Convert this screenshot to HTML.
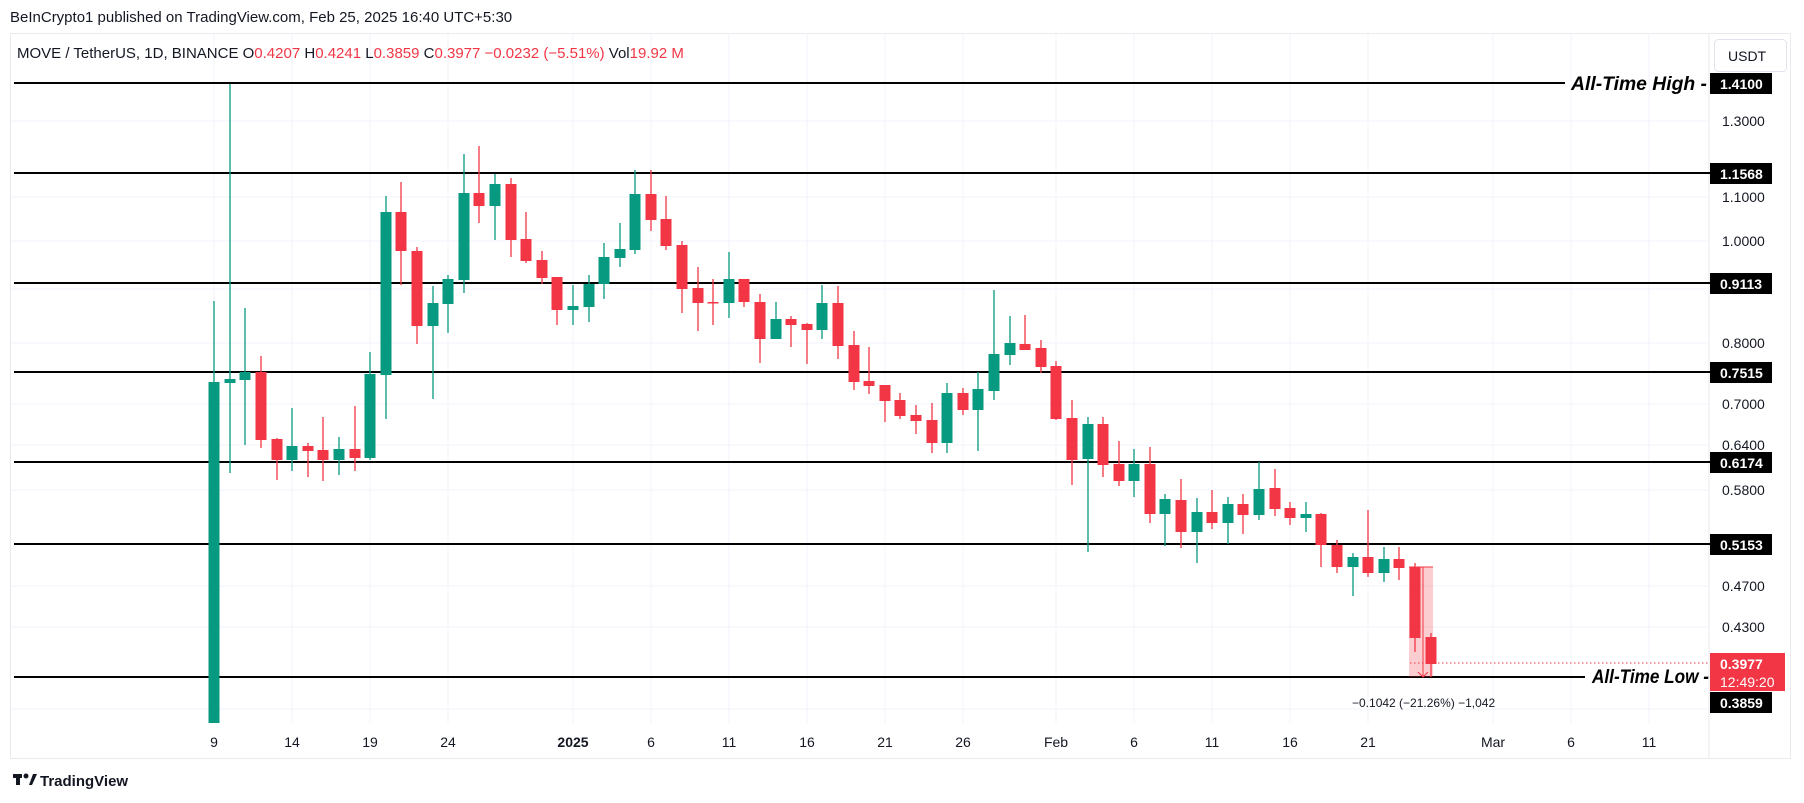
<!DOCTYPE html>
<html><head><meta charset="utf-8"><style>
body{margin:0;background:#fff;width:1804px;height:803px;overflow:hidden;font-family:"Liberation Sans",sans-serif}
svg{position:absolute;left:0;top:0}
.g{fill:#089981}.r{fill:#f23645}
</style></head><body>
<svg width="1804" height="803" viewBox="0 0 1804 803">
<text x="10" y="22" font-size="15" fill="#131722">BeInCrypto1 published on TradingView.com, Feb 25, 2025 16:40 UTC+5:30</text>
<rect x="10.5" y="33.5" width="1780" height="725" fill="#fff" stroke="#e8eaee"/>
<g stroke="#f0f3fa" stroke-width="1">
<path d="M11 121H1708M11 197H1708M11 241H1708M11 289H1708M11 343H1708M11 404H1708M11 445H1708M11 490H1708M11 586H1708M11 627H1708M11 709H1708"/>
<path d="M214 34V723M292 34V723M370 34V723M448 34V723M573 34V723M651 34V723M729 34V723M807 34V723M885 34V723M963 34V723M1056 34V723M1134 34V723M1212 34V723M1290 34V723M1368 34V723M1493 34V723M1571 34V723M1649 34V723"/>
</g>
<line x1="1709" y1="34" x2="1709" y2="758" stroke="#e8eaee"/>
<text x="17" y="58" font-size="15" fill="#131722">MOVE / TetherUS, 1D, BINANCE  O<tspan fill="#f23645">0.4207</tspan>  H<tspan fill="#f23645">0.4241</tspan>  L<tspan fill="#f23645">0.3859</tspan>  C<tspan fill="#f23645">0.3977  −0.0232 (−5.51%)</tspan>  Vol<tspan fill="#f23645">19.92 M</tspan></text>
<g stroke="#000" stroke-width="2">
<path d="M14 83H1565M14 173H1710M14 283H1710M14 372H1710M14 462H1710M14 544H1710M14 677H1585"/>
</g>
<line x1="1410" y1="663" x2="1710" y2="663" stroke="#f23645" stroke-dasharray="1.5 2.5"/>
<rect x="1409" y="567" width="24" height="110" fill="rgba(242,54,69,0.25)"/>
<path d="M1409 567H1433M1423 567V677M1418 672L1423 677L1428 672" stroke="#f23645" fill="none" stroke-width="1"/>
<path fill="none" stroke="#089981" stroke-width="1.3" d="M214 301V723M230 84V473M245 308V445M292 408V471M339 437V475M370 352V460M386 196V419M433 286V399M448 275V333M464 154V293M495 174V240M573 285V325M589 275V322M604 243V299M620 223V267M635 170V254M729 252V318M776 302V339M822 285V339M947 383V453M978 372V451M994 290V400M1010 316V365M1088 417V552M1134 449V497M1165 494V546M1197 498V563M1228 497V544M1259 462V520M1306 502V532M1353 553V596M1384 547V582"/>
<path fill="none" stroke="#f23645" stroke-width="1.3" d="M261 356V448M277 438V480M308 443V477M323 417V481M355 406V471M401 182V285M417 247V344M479 146V223M511 178V257M526 212V263M542 251V284M557 277V325M651 170V231M666 196V250M682 241V313M698 267V331M713 279V325M744 279V307M760 294V363M791 316V347M807 323V364M838 286V359M854 331V390M869 347V394M885 385V422M900 393V419M916 405V434M932 403V453M963 388V415M1025 315V350M1041 340V373M1056 361V420M1072 400V485M1103 417V477M1119 441V486M1150 447V523M1181 479V548M1212 490V529M1243 494V534M1275 469V516M1290 502V525M1321 513V567M1337 540V573M1368 510V577M1399 547V580M1415 563V652M1431 633V677"/>
<g class="g">
<rect x="208.5" y="382" width="11" height="341"/><rect x="224.5" y="379" width="11" height="4"/><rect x="239.5" y="372" width="11" height="8"/><rect x="286.5" y="446" width="11" height="14"/><rect x="333.5" y="449" width="11" height="11"/><rect x="364.5" y="374" width="11" height="84"/><rect x="380.5" y="212" width="11" height="163"/><rect x="427.5" y="303" width="11" height="23"/><rect x="442.5" y="279" width="11" height="25"/><rect x="458.5" y="193" width="11" height="87"/><rect x="489.5" y="184" width="11" height="22"/><rect x="567.5" y="306" width="11" height="4"/><rect x="583.5" y="284" width="11" height="23"/><rect x="598.5" y="257" width="11" height="27"/><rect x="614.5" y="249" width="11" height="9"/><rect x="629.5" y="194" width="11" height="56"/><rect x="723.5" y="279" width="11" height="24"/><rect x="770.5" y="319" width="11" height="20"/><rect x="816.5" y="303" width="11" height="27"/><rect x="941.5" y="393" width="11" height="50"/><rect x="972.5" y="389" width="11" height="21"/><rect x="988.5" y="354" width="11" height="37"/><rect x="1004.5" y="343" width="11" height="12"/><rect x="1082.5" y="424" width="11" height="35"/><rect x="1128.5" y="464" width="11" height="17"/><rect x="1159.5" y="499" width="11" height="15"/><rect x="1191.5" y="512" width="11" height="20"/><rect x="1222.5" y="504" width="11" height="19"/><rect x="1253.5" y="489" width="11" height="26"/><rect x="1300.5" y="514" width="11" height="4"/><rect x="1347.5" y="557" width="11" height="10"/><rect x="1378.5" y="559" width="11" height="14"/>
</g>
<g class="r">
<rect x="255.5" y="372" width="11" height="68"/><rect x="271.5" y="439" width="11" height="21"/><rect x="302.5" y="446" width="11" height="5"/><rect x="317.5" y="450" width="11" height="10"/><rect x="349.5" y="449" width="11" height="9"/><rect x="395.5" y="212" width="11" height="39"/><rect x="411.5" y="251" width="11" height="75"/><rect x="473.5" y="193" width="11" height="13"/><rect x="505.5" y="184" width="11" height="56"/><rect x="520.5" y="239" width="11" height="22"/><rect x="536.5" y="260" width="11" height="18"/><rect x="551.5" y="277" width="11" height="33"/><rect x="645.5" y="194" width="11" height="26"/><rect x="660.5" y="219" width="11" height="27"/><rect x="676.5" y="245" width="11" height="44"/><rect x="692.5" y="288" width="11" height="15"/><rect x="707.5" y="302" width="11" height="1.5"/><rect x="738.5" y="279" width="11" height="23"/><rect x="754.5" y="302" width="11" height="37"/><rect x="785.5" y="319" width="11" height="6"/><rect x="801.5" y="324" width="11" height="6"/><rect x="832.5" y="303" width="11" height="43"/><rect x="848.5" y="345" width="11" height="37"/><rect x="863.5" y="381" width="11" height="5"/><rect x="879.5" y="385" width="11" height="16"/><rect x="894.5" y="400" width="11" height="16"/><rect x="910.5" y="415" width="11" height="6"/><rect x="926.5" y="420" width="11" height="23"/><rect x="957.5" y="393" width="11" height="17"/><rect x="1019.5" y="344" width="11" height="6"/><rect x="1035.5" y="348" width="11" height="19"/><rect x="1050.5" y="366" width="11" height="53"/><rect x="1066.5" y="418" width="11" height="42"/><rect x="1097.5" y="424" width="11" height="41"/><rect x="1113.5" y="464" width="11" height="17"/><rect x="1144.5" y="464" width="11" height="50"/><rect x="1175.5" y="500" width="11" height="32"/><rect x="1206.5" y="512" width="11" height="11"/><rect x="1237.5" y="504" width="11" height="11"/><rect x="1269.5" y="488" width="11" height="21"/><rect x="1284.5" y="508" width="11" height="10"/><rect x="1315.5" y="514" width="11" height="31"/><rect x="1331.5" y="545" width="11" height="22"/><rect x="1362.5" y="557" width="11" height="16"/><rect x="1393.5" y="559" width="11" height="9"/><rect x="1409.5" y="567" width="11" height="71"/><rect x="1425.5" y="637" width="11" height="27"/>
</g>
<text x="1352" y="707" font-size="12" fill="#131722">−0.1042 (−21.26%) −1,042</text>
<g font-size="19" font-weight="bold" font-style="italic" fill="#000">
<text x="1571" y="90" textLength="136" lengthAdjust="spacingAndGlyphs">All-Time High -</text>
<text x="1592" y="683" textLength="117" lengthAdjust="spacingAndGlyphs">All-Time Low -</text>
</g>
<g font-size="14" fill="#131722">
<text x="1722" y="126">1.3000</text><text x="1722" y="202">1.1000</text><text x="1722" y="246">1.0000</text><text x="1722" y="348">0.8000</text><text x="1722" y="409">0.7000</text><text x="1722" y="450">0.6400</text><text x="1722" y="495">0.5800</text><text x="1722" y="591">0.4700</text><text x="1722" y="632">0.4300</text>
</g>
<rect x="1714.5" y="39.5" width="72" height="32" rx="4" fill="#fff" stroke="#e0e3eb"/>
<text x="1728" y="61" font-size="14" fill="#131722">USDT</text>
<g fill="#000">
<rect x="1710" y="73" width="62" height="21"/><rect x="1710" y="163" width="62" height="21"/><rect x="1710" y="273" width="62" height="21"/><rect x="1710" y="362" width="62" height="21"/><rect x="1710" y="452" width="62" height="21"/><rect x="1710" y="534" width="62" height="21"/><rect x="1710" y="692" width="62" height="21"/>
</g>
<rect x="1710" y="653" width="75" height="38" fill="#f23645"/>
<g font-size="14" font-weight="bold" fill="#fff">
<text x="1720" y="89">1.4100</text><text x="1720" y="179">1.1568</text><text x="1720" y="289">0.9113</text><text x="1720" y="378">0.7515</text><text x="1720" y="468">0.6174</text><text x="1720" y="550">0.5153</text><text x="1720" y="708">0.3859</text>
<text x="1720" y="669">0.3977</text><text x="1720" y="687" font-weight="normal">12:49:20</text>
</g>
<g font-size="14" fill="#131722" text-anchor="middle">
<text x="214" y="747">9</text><text x="292" y="747">14</text><text x="370" y="747">19</text><text x="448" y="747">24</text><text x="573" y="747" font-weight="bold">2025</text><text x="651" y="747">6</text><text x="729" y="747">11</text><text x="807" y="747">16</text><text x="885" y="747">21</text><text x="963" y="747">26</text><text x="1056" y="747">Feb</text><text x="1134" y="747">6</text><text x="1212" y="747">11</text><text x="1290" y="747">16</text><text x="1368" y="747">21</text><text x="1493" y="747">Mar</text><text x="1571" y="747">6</text><text x="1649" y="747">11</text>
</g>
<g fill="#131722"><rect x="13" y="774" width="9" height="4"/><rect x="16" y="774" width="4" height="11"/><circle cx="26" cy="776" r="2.5"/><path d="M29 785L33 774H37L32 785Z"/></g>
<text x="40" y="786" font-size="15" font-weight="bold" fill="#131722">TradingView</text>
</svg>
</body></html>
